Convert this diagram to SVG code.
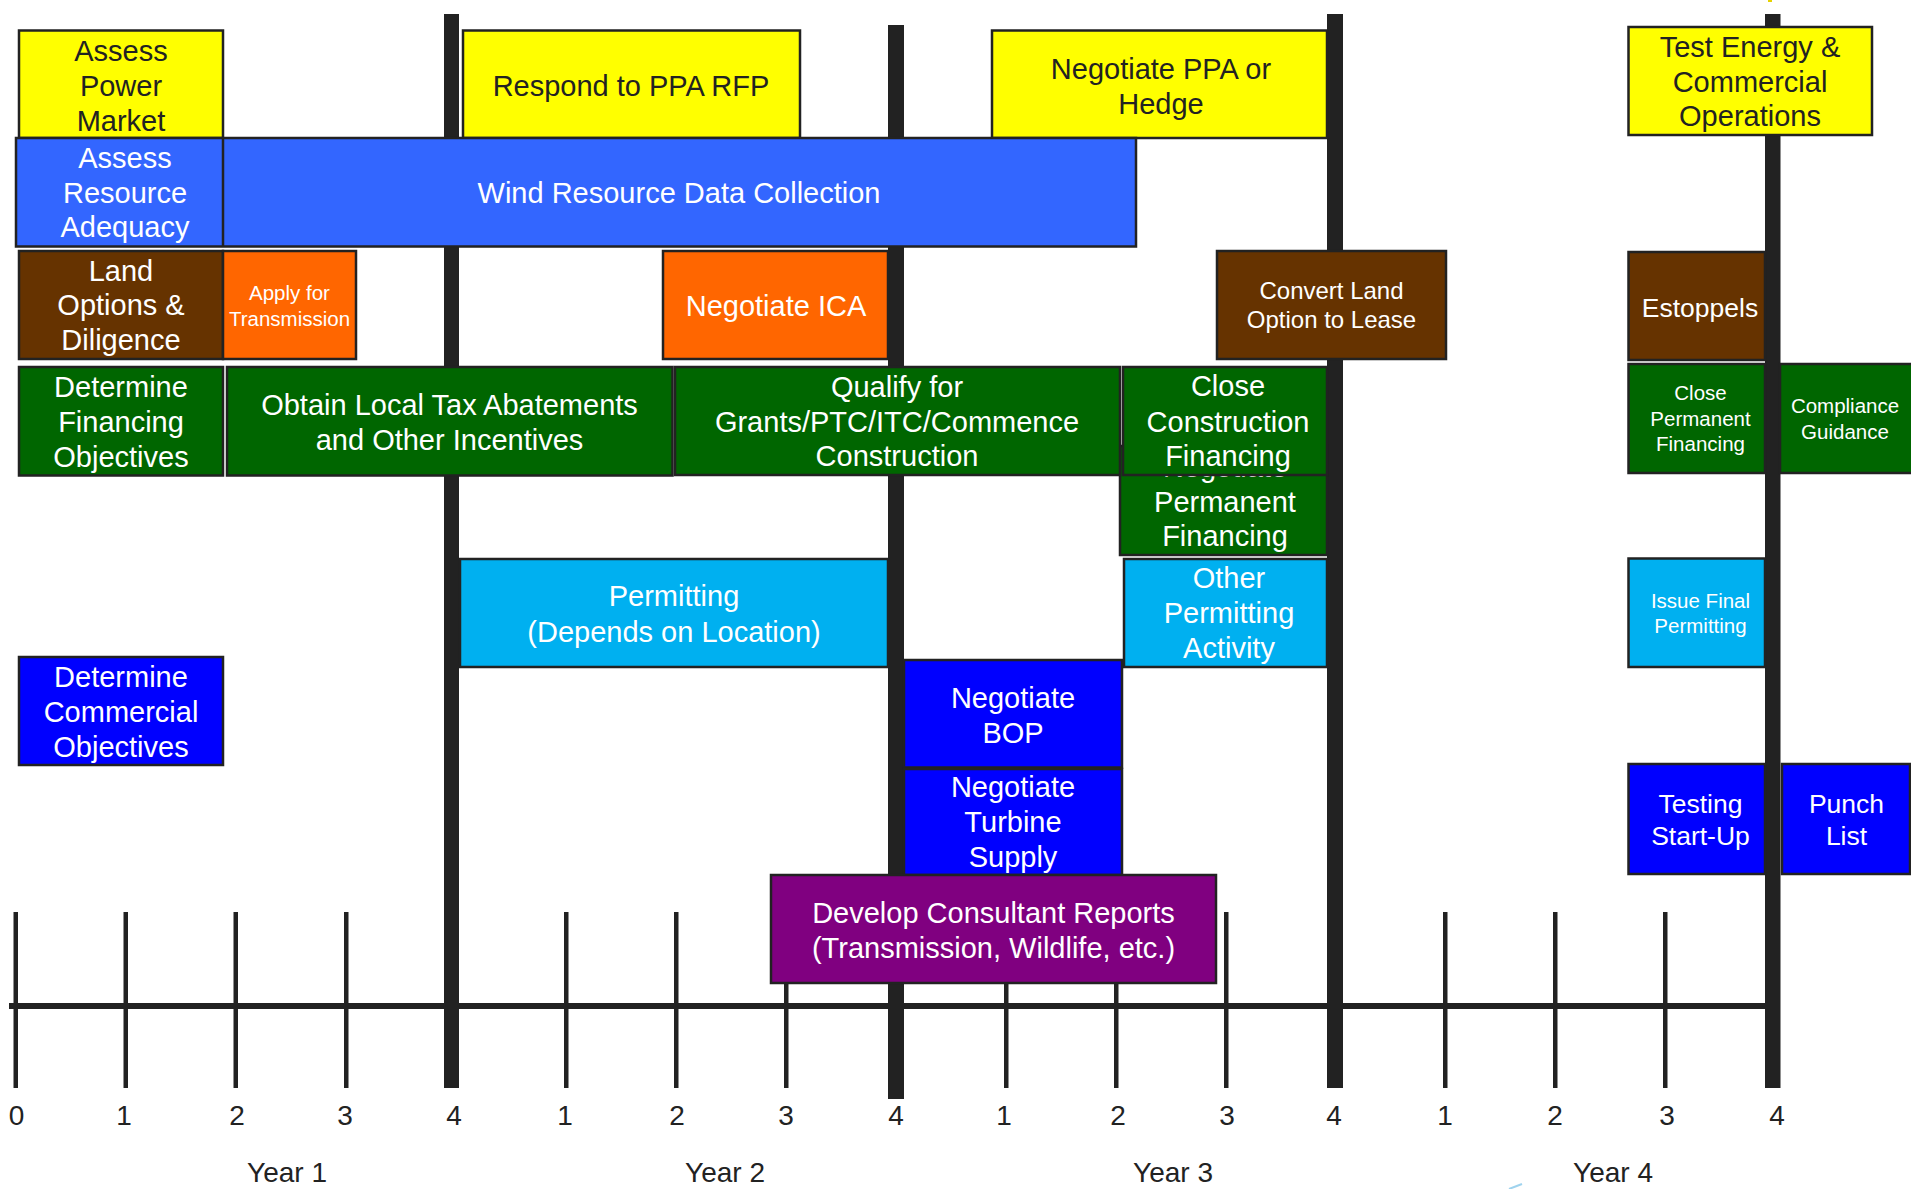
<svg xmlns="http://www.w3.org/2000/svg" width="1911" height="1189" viewBox="0 0 1911 1189">
<style>
text{font-family:"Liberation Sans",Arial,sans-serif;text-anchor:middle}
.b{stroke:#222;stroke-width:2.5}
.y{fill:#FFFF00}.rb{fill:#3366FF}.br{fill:#663300}.or{fill:#FF6600}.gr{fill:#006600}.lb{fill:#00B0F0}.bl{fill:#0000FF}.pu{fill:#800080}
.tk{fill:#222;font-size:29px}.tw{fill:#fff;font-size:29px}
.s{font-size:20.5px}.m{font-size:24px}.l{font-size:26.5px}
.ax{fill:#222;font-size:28px}
.bar{fill:#222}
</style>
<rect width="1911" height="1189" fill="#fff"/>
<g id="bars">
<rect class="bar" x="444" y="14" width="15" height="1074"/>
<rect class="bar" x="888" y="25" width="16" height="1074"/>
<rect class="bar" x="1327" y="14" width="16" height="1074"/>
<rect class="bar" x="1765" y="14" width="15.5" height="1074"/>
</g>
<g id="ticks" fill="#222">
<rect x="13.5" y="912" width="4.5" height="176"/>
<rect x="123.5" y="912" width="4.5" height="176"/>
<rect x="233.5" y="912" width="4.5" height="176"/>
<rect x="344" y="912" width="4.5" height="176"/>
<rect x="564" y="912" width="4.5" height="176"/>
<rect x="674" y="912" width="4.5" height="176"/>
<rect x="784" y="912" width="4.5" height="176"/>
<rect x="1004" y="912" width="4.5" height="176"/>
<rect x="1114" y="912" width="4.5" height="176"/>
<rect x="1224" y="912" width="4.5" height="176"/>
<rect x="1443" y="912" width="4.5" height="176"/>
<rect x="1553" y="912" width="4.5" height="176"/>
<rect x="1663" y="912" width="4.5" height="176"/>
<rect x="9" y="1003" width="1757" height="6"/>
</g>
<g id="assess-power-market"><rect class="b y" x="19" y="30.5" width="204" height="107.5"/>
<text class="tk"><tspan x="121" y="61">Assess</tspan><tspan x="121" y="96">Power</tspan><tspan x="121" y="131">Market</tspan></text></g>
<g id="respond-ppa-rfp"><rect class="b y" x="463" y="30.5" width="337" height="107.5"/>
<text class="tk" x="631" y="96">Respond to PPA RFP</text></g>
<g id="negotiate-ppa"><rect class="b y" x="992" y="30.5" width="335" height="107.5"/>
<text class="tk"><tspan x="1161" y="79">Negotiate PPA or</tspan><tspan x="1161" y="114">Hedge</tspan></text></g>
<g id="test-energy"><rect class="b y" x="1628.5" y="27" width="243.5" height="108"/>
<text class="tk"><tspan x="1750" y="57">Test Energy &amp;</tspan><tspan x="1750" y="92">Commercial</tspan><tspan x="1750" y="126">Operations</tspan></text></g>
<g id="wind-resource"><rect class="b rb" x="16" y="138" width="1120" height="108.5"/>
<line x1="223" y1="138" x2="223" y2="246.5" stroke="#222" stroke-width="2.5"/>
<text class="tw"><tspan x="125" y="168">Assess</tspan><tspan x="125" y="203">Resource</tspan><tspan x="125" y="237">Adequacy</tspan></text>
<text class="tw" x="679" y="203">Wind Resource Data Collection</text></g>
<g id="land-options"><rect class="b br" x="19" y="251" width="204" height="108"/>
<text class="tw"><tspan x="121" y="281">Land</tspan><tspan x="121" y="315">Options &amp;</tspan><tspan x="121" y="350">Diligence</tspan></text></g>
<g id="apply-transmission"><rect class="b or" x="223" y="251" width="133" height="108"/>
<text class="tw s"><tspan x="289.5" y="300">Apply for</tspan><tspan x="289.5" y="326">Transmission</tspan></text></g>
<g id="negotiate-ica"><rect class="b or" x="663" y="251" width="225" height="108"/>
<text class="tw" x="776" y="316">Negotiate ICA</text></g>
<g id="convert-land"><rect class="b br" x="1217" y="251" width="229" height="108"/>
<text class="tw m"><tspan x="1331.5" y="299">Convert Land</tspan><tspan x="1331.5" y="328">Option to Lease</tspan></text></g>
<g id="estoppels"><rect class="b br" x="1628.5" y="252" width="136.5" height="108"/>
<text class="tw l" x="1700" y="317">Estoppels</text></g>
<g id="negotiate-permanent-financing"><rect class="b gr" x="1120" y="446" width="207" height="109"/>
<text class="tw"><tspan x="1225" y="476.5">Negotiate</tspan><tspan x="1225" y="511.5">Permanent</tspan><tspan x="1225" y="546">Financing</tspan></text></g>
<g id="determine-financing"><rect class="b gr" x="19" y="367" width="204" height="108.5"/>
<text class="tw"><tspan x="121" y="397">Determine</tspan><tspan x="121" y="432">Financing</tspan><tspan x="121" y="467">Objectives</tspan></text></g>
<g id="obtain-tax"><rect class="b gr" x="227" y="367" width="445.5" height="108.5"/>
<text class="tw"><tspan x="449.5" y="415">Obtain Local Tax Abatements</tspan><tspan x="449.5" y="450">and Other Incentives</tspan></text></g>
<g id="qualify-grants"><rect class="b gr" x="675" y="367" width="445" height="108"/>
<text class="tw"><tspan x="897" y="396.5">Qualify for</tspan><tspan x="897" y="432">Grants/PTC/ITC/Commence</tspan><tspan x="897" y="466">Construction</tspan></text></g>
<g id="close-construction-financing"><rect class="b gr" x="1123" y="367" width="204" height="108"/>
<text class="tw"><tspan x="1228" y="396">Close</tspan><tspan x="1228" y="432">Construction</tspan><tspan x="1228" y="466">Financing</tspan></text></g>
<g id="close-permanent-financing"><rect class="b gr" x="1628.5" y="364" width="136.5" height="109"/>
<text class="tw s"><tspan x="1700.5" y="400">Close</tspan><tspan x="1700.5" y="426">Permanent</tspan><tspan x="1700.5" y="451">Financing</tspan></text></g>
<g id="compliance-guidance"><rect class="b gr" x="1780" y="364" width="135" height="109"/>
<text class="tw s"><tspan x="1845" y="413">Compliance</tspan><tspan x="1845" y="439">Guidance</tspan></text></g>
<g id="permitting"><rect class="b lb" x="460" y="559" width="428" height="108"/>
<text class="tw"><tspan x="674" y="606">Permitting</tspan><tspan x="674" y="641.5">(Depends on Location)</tspan></text></g>
<g id="other-permitting"><rect class="b lb" x="1124" y="559" width="203" height="108"/>
<text class="tw"><tspan x="1229" y="588">Other</tspan><tspan x="1229" y="623">Permitting</tspan><tspan x="1229" y="658">Activity</tspan></text></g>
<g id="issue-final-permitting"><rect class="b lb" x="1628.5" y="558.5" width="136.5" height="108.5"/>
<text class="tw s"><tspan x="1700.5" y="608">Issue Final</tspan><tspan x="1700.5" y="633">Permitting</tspan></text></g>
<g id="determine-commercial"><rect class="b bl" x="19" y="657" width="204" height="108"/>
<text class="tw"><tspan x="121" y="687">Determine</tspan><tspan x="121" y="722">Commercial</tspan><tspan x="121" y="757">Objectives</tspan></text></g>
<g id="negotiate-bop"><rect class="b bl" x="904" y="660" width="218" height="107.5"/>
<text class="tw"><tspan x="1013" y="708">Negotiate</tspan><tspan x="1013" y="743">BOP</tspan></text></g>
<g id="negotiate-turbine"><rect class="b bl" x="904" y="769" width="218" height="106"/>
<text class="tw"><tspan x="1013" y="797">Negotiate</tspan><tspan x="1013" y="832">Turbine</tspan><tspan x="1013" y="867">Supply</tspan></text></g>
<g id="testing-startup"><rect class="b bl" x="1628.5" y="764" width="136.5" height="110"/>
<text class="tw l"><tspan x="1700.5" y="813">Testing</tspan><tspan x="1700.5" y="845">Start-Up</tspan></text></g>
<g id="punch-list"><rect class="b bl" x="1782" y="764" width="128" height="110"/>
<text class="tw l"><tspan x="1846.5" y="813">Punch</tspan><tspan x="1846.5" y="845">List</tspan></text></g>
<g id="develop-consultant"><rect class="b pu" x="771" y="875" width="445" height="108"/>
<text class="tw"><tspan x="993.5" y="923">Develop Consultant Reports</tspan><tspan x="993.5" y="958">(Transmission, Wildlife, etc.)</tspan></text></g>
<g id="axis-labels" class="ax">
<text class="ax" x="16.5" y="1125">0</text><text class="ax" x="124" y="1125">1</text><text class="ax" x="237" y="1125">2</text><text class="ax" x="345" y="1125">3</text><text class="ax" x="454" y="1125">4</text>
<text class="ax" x="565" y="1125">1</text><text class="ax" x="677" y="1125">2</text><text class="ax" x="786" y="1125">3</text><text class="ax" x="896" y="1125">4</text>
<text class="ax" x="1004" y="1125">1</text><text class="ax" x="1118" y="1125">2</text><text class="ax" x="1227" y="1125">3</text><text class="ax" x="1334" y="1125">4</text>
<text class="ax" x="1445" y="1125">1</text><text class="ax" x="1555" y="1125">2</text><text class="ax" x="1667" y="1125">3</text><text class="ax" x="1777" y="1125">4</text>
<text class="ax" x="287" y="1182">Year 1</text><text class="ax" x="725" y="1182">Year 2</text><text class="ax" x="1173" y="1182">Year 3</text><text class="ax" x="1613" y="1182">Year 4</text>
</g>
<rect x="1768" y="0" width="4" height="2" fill="#E6D200"/>
<path d="M1509 1189 L1522 1184" stroke="#9FD3EE" stroke-width="2"/>
</svg>
